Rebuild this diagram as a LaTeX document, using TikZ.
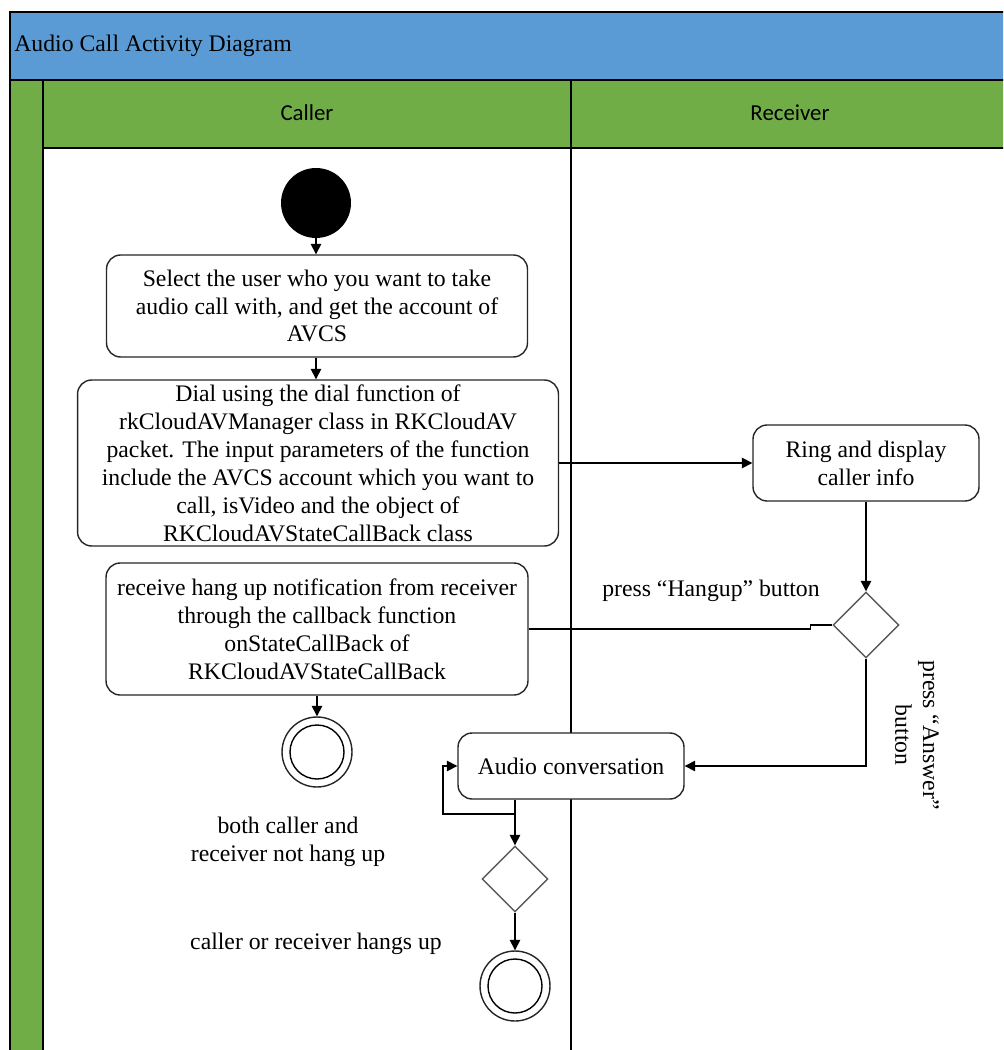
\documentclass[tikz,border=0pt]{standalone}
\usepackage{fontspec}
\setmainfont{Liberation Serif}
\newfontfamily\lanefont{Carlito}
\usetikzlibrary{shapes.geometric,arrows.meta}
\definecolor{titleblue}{HTML}{5B9BD5}
\definecolor{lanegreen}{HTML}{70AD47}
\begin{document}
\begin{tikzpicture}[x=0.02cm,y=-0.02cm,
    font=\fontsize{13.5}{15.9}\selectfont,
    act/.style = {draw=black!85,line width=0.8pt,rounded corners=8pt,fill=white,align=center,inner sep=0pt},
    choice/.style = {diamond,draw=black!65,line width=0.8pt,fill=white,minimum width=1.32cm,minimum height=1.32cm,inner sep=0pt},
    endnode/.style = {circle,draw=black!85,line width=0.8pt,fill=white,minimum size=1.4cm,inner sep=0pt},
    flow/.style = {line width=0.8pt},
    arrow/.style = {line width=0.8pt,-{Triangle[length=6pt,width=6pt]}},
    lanehead/.style = {font=\lanefont\fontsize{13}{15}\selectfont}]
                \useasboundingbox (0,0) rectangle (1003,1050);
                \clip (0,0) rectangle (1003,1050);
                % frame and swimlanes
                \fill[titleblue] (10,12) rectangle (1010,80);
                \fill[lanegreen] (10,80) rectangle (43,1060);
                \fill[lanegreen] (43,80) rectangle (1010,148);
                \draw[line width=0.9pt] (10,1060) -- (10,12) -- (1010,12);
                \draw[line width=0.9pt] (10,80) -- (1010,80);
                \draw[line width=0.9pt] (43,80) -- (43,1060);
                \draw[line width=0.9pt] (43,148) -- (1010,148);
                \draw[line width=0.9pt] (571,80) -- (571,1060);
                \node[anchor=west,inner sep=0pt] (title) at (14,46) {Audio Call Activity Diagram};
                \node[lanehead] (caller) at (307,113) {Caller};
                \node[lanehead] (receiver) at (790,113) {Receiver};

                % activities
                \node[circle,fill=black,minimum size=1.4cm,inner sep=0pt] (start) at (316,203) {};
                \node[act,minimum width=8.42cm,minimum height=2.04cm] (select) at (317,306)
                    {Select the user who you want to take\\audio call with, and get the account of\\AVCS};
                \node[act,minimum width=9.62cm,minimum height=3.32cm] (dial) at (318,463)
                    {Dial using the dial function of\\rkCloudAVManager class in RKCloudAV\\packet. The input parameters of the function\\include the AVCS account which you want to\\call, isVideo and the object of\\RKCloudAVStateCallBack class};
                \node[act,minimum width=4.52cm,minimum height=1.52cm] (ring) at (866,463)
                    {Ring and display\\caller info};
                \node[choice] (dhang) at (866,625) {};
                \node[act,minimum width=8.44cm,minimum height=2.64cm] (notify) at (317,629)
                    {receive hang up notification from receiver\\through the callback function\\onStateCallBack of\\RKCloudAVStateCallBack};
                \node[endnode] (end1) at (317,752) {};
                \draw[line width=0.8pt] (end1.center) circle (27);
                \node[act,minimum width=4.52cm,minimum height=1.32cm] (audio) at (571,766)
                    {Audio conversation};
                \node[choice] (dconv) at (515,879) {};
                \node[endnode] (end2) at (515,986) {};
                \draw[line width=0.8pt] (end2.center) circle (27);
                \coordinate (loopfork) at (515,814);

                % connectors
                \draw[arrow] (start) -- (select.north -| start);
                \draw[arrow] (select.south -| start) -- (dial.north -| start);
                \draw[arrow] (dial) -- (ring);
                \draw[arrow] (ring) -- (dhang);
                \draw[flow] (dhang.west) -- ++(-22,0) |- (notify.east);
                \draw[arrow] (dhang.south) |- (audio.east);
                \draw[arrow] (notify.south -| end1) -- (end1);
                \draw[arrow] (audio.south -| dconv) -- (dconv);
                \draw[arrow] (loopfork) -- ++(-72,0) |- (audio.west);
                \draw[arrow] (dconv) -- (end2);

                % guard labels
                \node (lhang) at (711,591) {press “Hangup” button};
                \node[rotate=-90,align=center] (lanswer) at (917,735) {press “Answer”\\button};
                \node[align=center] (lstay) at (288,842) {both caller and\\receiver not hang up};
                \node (lend) at (316,944) {caller or receiver hangs up};
            \end{tikzpicture}
\end{document}
